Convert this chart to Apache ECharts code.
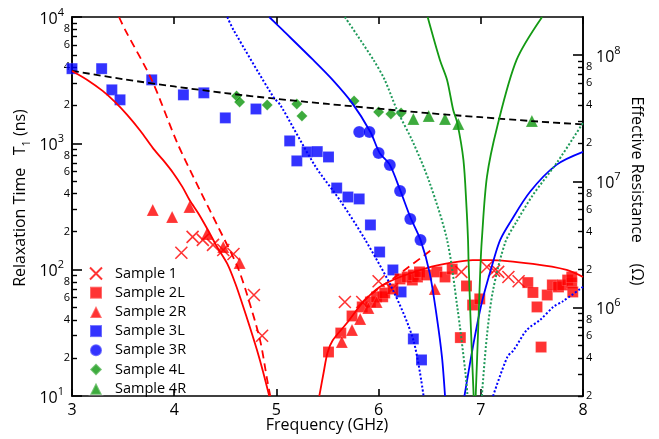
<!DOCTYPE html>
<html><head><meta charset="utf-8">
<script src="https://cdn.jsdelivr.net/npm/echarts@6/dist/echarts.min.js"></script>
<style>html,body{margin:0;padding:0;background:#fff}#c{width:659px;height:439px}</style>
</head><body><div id="c"></div>
<script>
// ---------- axis ticks ----------
const xTicks = [3, 4, 5, 6, 7, 8];
const leftMajor = [10, 100, 1000, 10000];
const leftMinorTicks = [20,30,40,50,60,70,80,90,200,300,400,500,600,700,800,900,2000,3000,4000,5000,6000,7000,8000,9000];
const leftMinorLabels = [20,40,60,80,200,400,600,800,2000,4000,6000,8000];
const rightMajor = [1e6, 1e7, 1e8];
const rightMinorTicks = [2e5,3e5,4e5,5e5,6e5,7e5,8e5,9e5,2e6,3e6,4e6,5e6,6e6,7e6,8e6,9e6,2e7,3e7,4e7,5e7,6e7,7e7,8e7,9e7];
const rightMinorLabels = [2e5,4e5,6e5,8e5,2e6,4e6,6e6,8e6,2e7,4e7,6e7,8e7];

// ---------- scatter data [GHz, ns] ----------
const sample1 = [[4.07,136],[4.18,182],[4.28,172],[4.38,157],[4.48,143],[4.58,133],[4.78,63],[4.86,30],
  [5.67,55.5],[5.84,55.5],[6.00,81],[6.13,70],[6.81,96],[7.06,105],[7.13,98],[7.17,96],[7.27,87.5],[7.37,81]];
const sample2L = [[5.51,22.3],[5.63,31.5],[5.74,43],[5.84,50.7],[5.92,55.5],[5.98,60.8],[6.04,61],[6.06,65.4],
  [6.14,70.3],[6.21,84.4],[6.28,87.5],[6.33,82.8],[6.34,90.8],[6.38,87.5],[6.40,96],[6.47,90.8],[6.57,96],
  [6.65,87.5],[6.72,101],[6.80,29],[6.86,74.3],[6.92,52.5],[6.99,58.7],[7.46,79],[7.51,66],[7.55,50.7],
  [7.59,24.4],[7.65,63],[7.70,75.7],[7.76,73],[7.80,75.7],[7.85,82.8],[7.89,78.5],[7.90,66.6],[7.89,87.5]];
const sample2R = [[3.79,297],[3.98,261],[4.15,314],[4.32,192],[4.48,151],[4.64,113],
  [5.64,26.8],[5.74,33.3],[5.82,40.7],[5.90,49.7],[5.98,55.5],[6.55,70.3]];
const sample3L = [[3.00,3900],[3.29,3900],[3.39,2650],[3.47,2210],[3.78,3180],[4.09,2420],[4.29,2510],
  [4.50,1590],[4.80,1870],[5.13,1045],[5.20,726],[5.30,855],[5.40,860],[5.51,780],[5.59,443],[5.70,376],
  [5.81,363],[5.92,226],[6.01,138],[6.14,99.5],[6.22,66.6],[6.34,28.3],[6.42,19.3]];
const sample3R = [[5.81,1231],[5.91,1231],[6.00,839],[6.11,675],[6.21,420],[6.31,252],[6.41,172]];
const sample4L = [[4.61,2373],[4.64,2128],[4.91,2014],[5.20,2051],[5.25,1648],[5.76,2167],[6.00,1773],[6.12,1710],[6.22,1741]];
const sample4R = [[6.34,1560],[6.49,1648],[6.65,1560],[6.78,1425],[7.50,1504]];

// ---------- model curves [GHz, ns] ----------
const blackDashed = [[3,3750],[3.5,3220],[4,2820],[4.5,2500],[5,2250],[5.5,2050],[6,1880],[6.5,1730],[7,1610],[7.5,1500],[8,1410]];
const redSolidA = [[3.0,3743],[3.15,3177],[3.30,2600],[3.42,2128],[3.54,1680],[3.67,1253],[3.79,920],[3.89,739],
  [3.99,583],[4.08,452],[4.15,356],[4.24,276],[4.33,206],[4.42,151],[4.52,111],[4.60,77],[4.67,52.5],
  [4.74,35.2],[4.81,23.1],[4.87,15.5],[4.93,10]];
const redSolidB = [[5.42,10],[5.46,15],[5.50,22],[5.55,27.5],[5.69,37.8],[5.85,55.5],[6.01,73],[6.21,87.5],[6.47,103],[6.70,113],[6.92,119],[7.09,119],[7.51,111],[7.84,99.5],[8.0,87.5]];
const redDashedA = [[3.46,10000],[3.52,7907],[3.78,3177],[4.03,1007],[4.25,428],[4.43,218],[4.62,105],[4.72,60.8],[4.84,27.7],[4.91,13.4],[4.94,10]];
const redDashedB = [[5.93,64],[6.01,72],[6.15,86],[6.30,106],[6.42,125],[6.52,144]];
const blueSolidA = [[4.93,10000],[5.06,7900],[5.36,4570],[5.55,3180],[5.74,2090],[5.92,1230],[6.01,840],[6.11,675],[6.21,428],[6.31,261],[6.41,172],[6.50,94],[6.57,42],[6.62,20.4],[6.65,10]];
const blueSolidB = [[6.84,10],[6.93,26.3],[7.01,55],[7.12,115],[7.19,172],[7.29,239],[7.48,412],[7.74,675],[8.0,855]];
const blueDottedA = [[4.52,10000],[4.58,7900],[4.97,2330],[5.04,2000],[5.38,660],[5.62,356],[5.87,172],[6.14,69],[6.34,27.7],[6.44,10]];
const blueDottedB = [[7.12,10],[7.26,20.4],[7.32,23],[7.45,33.3],[7.58,40],[7.71,50.7],[7.80,56],[8.0,73]];
const greenSolidA = [[6.48,10000],[6.60,4571],[6.67,3177],[6.73,1837],[6.77,1452],[6.83,739],[6.86,314],[6.875,172],[6.88,119],[6.90,40],[6.93,10]];
const greenSolidB = [[6.95,10],[6.975,35],[6.995,100],[7.01,172],[7.06,542],[7.16,1349],[7.35,4571],[7.60,10000]];
const greenDottedA = [[5.67,10000],[5.95,4571],[6.06,3177],[6.18,1837],[6.34,1007],[6.50,486],[6.67,172],[6.77,50.7],[6.85,15.2],[6.87,10]];
const greenDottedB = [[7.01,10],[7.06,30],[7.12,69],[7.24,165],[7.35,240],[7.51,390],[7.75,713],[8.0,1452]];

const FONT = '"Open Sans", "DejaVu Sans", sans-serif';
const RED = '#ff0000', BLUE = '#0000ff', GREEN = '#0c960c', GREEN_SOLID = '#139a13', GREEN_DOT = '#1f9a5a';
const CROSS = 'path://M0,0L10,10M10,0L0,10';

function supFmt(v){ return '{b|10}{s|' + Math.round(Math.log10(v)) + '}'; }
function minorFmt(v){ const e = Math.floor(Math.log10(v) + 1e-9); return String(Math.round(v / Math.pow(10, e))); }
const supRich = {
  b: {fontSize: 16, fontFamily: FONT, color: '#000', lineHeight: 20, verticalAlign: 'bottom'},
  s: {fontSize: 11, fontFamily: FONT, color: '#000', lineHeight: 11, verticalAlign: 'top'}
};
const axisLine = {show: true, lineStyle: {color: '#000', width: 1.6}};

const chart = echarts.init(document.getElementById('c'), null, {renderer: 'canvas'});

function scatter(name, data, symbol, size, color, extra){
  return Object.assign({
    name, type: 'scatter', data, symbol, symbolSize: size, z: 3,
    itemStyle: {color, borderColor: 'rgba(255,255,255,0.35)', borderWidth: 0.6}
  }, extra || {});
}
function curve(data, color, type, width){
  return {type: 'line', data, showSymbol: false, symbol: 'none', smooth: 0.3, z: 4,
    lineStyle: {color, type, width}, clip: true, silent: true};
}

chart.setOption({
  animation: false,
  backgroundColor: '#fff',
  grid: {left: 72, right: 76, top: 17, bottom: 43, containLabel: false},
  xAxis: [
    {type: 'value', min: 3, max: 8, interval: 1, position: 'bottom',
     axisLine, splitLine: {show: false},
     axisTick: {inside: true, length: 7, lineStyle: {color: '#000', width: 1.6}},
     axisLabel: {color: '#000', fontSize: 16, fontFamily: FONT, margin: 6}},
    {type: 'value', min: 3, max: 8, interval: 1, position: 'top',
     axisLine, splitLine: {show: false},
     axisTick: {inside: true, length: 7, lineStyle: {color: '#000', width: 1.6}},
     axisLabel: {show: false}}
  ],
  yAxis: [
    {type: 'log', logBase: 10, min: 10, max: 10000, position: 'left',
     axisLine, splitLine: {show: false}, minorTick: {show: false},
     axisTick: {inside: true, length: 10, customValues: leftMajor, lineStyle: {color: '#000', width: 1.6}},
     axisLabel: {customValues: leftMajor, formatter: supFmt, rich: supRich, margin: 8}},
    {type: 'log', logBase: 10, min: 10, max: 10000, position: 'left',
     axisLine, splitLine: {show: false},
     axisTick: {inside: true, length: 5, customValues: leftMinorTicks, lineStyle: {color: '#000', width: 1.4}},
     axisLabel: {customValues: leftMinorLabels, formatter: minorFmt, color: '#000', fontSize: 11, fontFamily: FONT, margin: 2}},
    {type: 'log', logBase: 10, min: 2e5, max: 2e8, position: 'right',
     axisLine, splitLine: {show: false},
     axisTick: {inside: true, length: 10, customValues: rightMajor, lineStyle: {color: '#000', width: 1.6}},
     axisLabel: {customValues: rightMajor, formatter: supFmt, rich: supRich, margin: 13}},
    {type: 'log', logBase: 10, min: 2e5, max: 2e8, position: 'right',
     axisLine, splitLine: {show: false},
     axisTick: {inside: true, length: 5, customValues: rightMinorTicks, lineStyle: {color: '#000', width: 1.4}},
     axisLabel: {customValues: rightMinorLabels, formatter: minorFmt, color: '#000', fontSize: 11, fontFamily: FONT, margin: 3}}
  ],
  legend: {
    orient: 'vertical', left: 84, top: 261, itemWidth: 12, itemHeight: 12, itemGap: 4.2,
    data: ['Sample 1','Sample 2L','Sample 2R','Sample 3L','Sample 3R','Sample 4L','Sample 4R'],
    textStyle: {fontSize: 14.5, fontFamily: FONT, color: '#000', lineHeight: 14, padding: [0,0,0,8]},
    selectedMode: false
  },
  graphic: [
    {type: 'text', x: 22, y: 198, rotation: Math.PI / 2,
     style: {text: '{a|Relaxation Time   T}{u|1}{a| (ns)}', align: 'center', verticalAlign: 'middle',
       rich: {a: {fontSize: 16, fontFamily: FONT, fill: '#000', lineHeight: 20, verticalAlign: 'top'},
              u: {fontSize: 11, fontFamily: FONT, fill: '#000', lineHeight: 11, verticalAlign: 'bottom'}}}},
    {type: 'text', x: 637, y: 191, rotation: -Math.PI / 2,
     style: {text: 'Effective Resistance     (\u03A9)', align: 'center', verticalAlign: 'middle',
       fontSize: 16, fontFamily: FONT, fill: '#000'}},
    {type: 'text', x: 327, y: 425,
     style: {text: 'Frequency (GHz)', align: 'center', verticalAlign: 'middle',
       fontSize: 16, fontFamily: FONT, fill: '#000'}}
  ],
  series: [
    scatter('Sample 3L', sample3L, 'rect', 11, BLUE),
    scatter('Sample 4L', sample4L, 'diamond', 11, GREEN),
    scatter('Sample 4R', sample4R, 'triangle', 12, GREEN),
    scatter('Sample 3R', sample3R, 'circle', 12, BLUE),
    scatter('Sample 2L', sample2L, 'rect', 11, RED),
    scatter('Sample 2R', sample2R, 'triangle', 12, RED),
    scatter('Sample 1', sample1, CROSS, 12, 'transparent',
      {itemStyle: {color: 'transparent', borderColor: RED, borderWidth: 1.6}}),
    curve(blackDashed, '#000', [7, 4], 1.8),
    curve(redSolidA, RED, 'solid', 1.8),
    curve(redSolidB, RED, 'solid', 1.8),
    curve(redDashedA, RED, [8, 5], 1.8),
    curve(redDashedB, RED, [8, 5], 1.8),
    curve(blueSolidA, BLUE, 'solid', 1.8),
    curve(blueSolidB, BLUE, 'solid', 1.8),
    curve(blueDottedA, BLUE, [2, 2], 2),
    curve(blueDottedB, BLUE, [2, 2], 2),
    curve(greenSolidA, GREEN_SOLID, 'solid', 1.8),
    curve(greenSolidB, GREEN_SOLID, 'solid', 1.8),
    curve(greenDottedA, GREEN_DOT, [2, 2], 2),
    curve(greenDottedB, GREEN_DOT, [2, 2], 2)
  ]
});
</script></body></html>
